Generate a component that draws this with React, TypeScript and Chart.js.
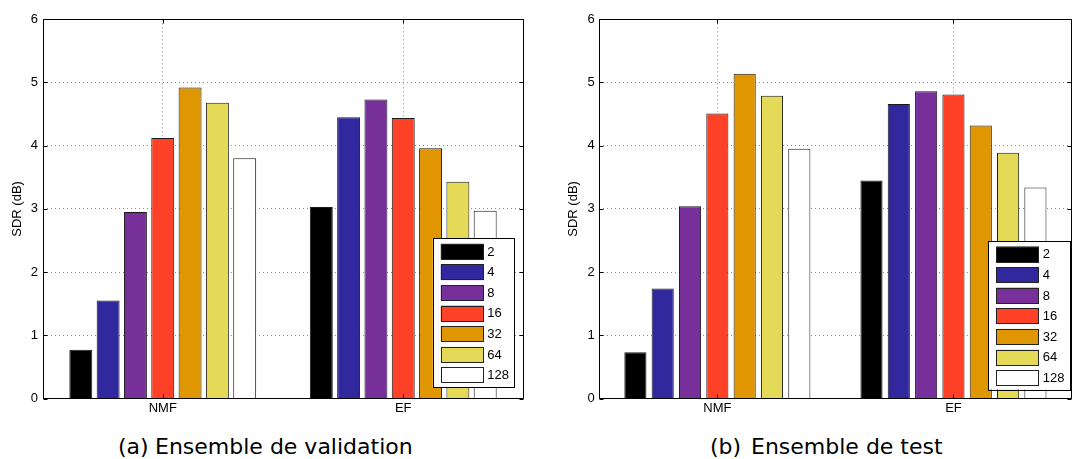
import React, { useEffect, useRef } from "react";
import { Chart, registerables } from "chart.js";

Chart.register(...registerables);

// ---------- data ----------
const categories = ["NMF", "EF"];
const seriesLabels = ["2", "4", "8", "16", "32", "64", "128"];
const seriesColors = ["#000000", "#32289e", "#772f9a", "#ff4128", "#e09600", "#e5da58", "#ffffff"];
const yTicks = [0, 1, 2, 3, 4, 5, 6];
const yAxisTitle = "SDR (dB)";

const validationNMF = [0.77, 1.55, 2.95, 4.12, 4.92, 4.68, 3.8];
const validationEF = [3.03, 4.45, 4.73, 4.44, 3.96, 3.43, 2.97];
const testNMF = [0.73, 1.74, 3.04, 4.51, 5.14, 4.79, 3.95];
const testEF = [3.45, 4.66, 4.86, 4.81, 4.32, 3.89, 3.34];

const captionA = ["(a)", "Ensemble de validation"];
const captionB = ["(b)", "Ensemble de test"];

// ---------- style ----------
const FONT = "'Liberation Sans', Arial, Helvetica, sans-serif";
const GRID = "#8c8c8c";

type PanelCfg = {
  left: number;
  width: number;
  height: number;
  yAxisWidth: number;
  padRight: number;
  padTop: number;
  xAxisHeight: number;
  titleX: number;
  legend: { x: number; y: number; w: number; h: number };
  catPct: number;
  barPct: number;
};

function makeDecorPlugin(cfg: PanelCfg) {
  return {
    id: "panelDecor",
    afterDatasetsDraw(chart: any) {
      const { ctx, chartArea } = chart;
      const xs = chart.scales.x;
      const ys = chart.scales.y;
      const L = Math.round(chartArea.left) + 0.5;
      const R = Math.round(chartArea.right) - 0.5;
      const T = Math.round(chartArea.top) + 0.5;
      const B = Math.round(chartArea.bottom) - 0.5;
      ctx.save();
      ctx.strokeStyle = "#000";
      ctx.lineWidth = 1;
      ctx.setLineDash([]);
      ctx.beginPath();
      ctx.rect(L, T, R - L, B - T);
      // inward ticks
      yTicks.forEach((v) => {
        const py = Math.round(ys.getPixelForValue(v)) + 0.5;
        ctx.moveTo(L, py);
        ctx.lineTo(L + 4, py);
        ctx.moveTo(R, py);
        ctx.lineTo(R - 4, py);
      });
      categories.forEach((_, i) => {
        const px = Math.round(xs.getPixelForValue(i)) + 0.5;
        ctx.moveTo(px, B);
        ctx.lineTo(px, B - 4);
        ctx.moveTo(px, T);
        ctx.lineTo(px, T + 4);
      });
      ctx.stroke();

      // legend
      const lg = cfg.legend;
      ctx.fillStyle = "#fff";
      ctx.fillRect(lg.x, lg.y, lg.w, lg.h);
      ctx.strokeRect(Math.round(lg.x) + 0.5, Math.round(lg.y) + 0.5, Math.round(lg.w), Math.round(lg.h));
      ctx.font = `13px ${FONT}`;
      ctx.textBaseline = "middle";
      ctx.textAlign = "left";
      chart.data.datasets.forEach((ds: any, i: number) => {
        const sx = lg.x + 8;
        const sy = lg.y + 5.5 + i * 20.6;
        ctx.fillStyle = ds.backgroundColor;
        ctx.fillRect(sx, sy, 42.7, 15.7);
        ctx.strokeStyle = "#222";
        ctx.strokeRect(Math.round(sx) + 0.5, Math.round(sy) + 0.5, 42, 15);
        ctx.fillStyle = "#000";
        ctx.fillText(ds.label, sx + 46.5, sy + 8.3);
      });

      // y-axis title
      ctx.translate(cfg.titleX, (chartArea.top + chartArea.bottom) / 2);
      ctx.rotate(-Math.PI / 2);
      ctx.textAlign = "center";
      ctx.fillStyle = "#000";
      ctx.fillText(yAxisTitle, 0, 0);
      ctx.restore();
    },
  };
}

function Panel({ nmf, ef, cfg }: { nmf: number[]; ef: number[]; cfg: PanelCfg }) {
  const ref = useRef<HTMLCanvasElement | null>(null);
  useEffect(() => {
    if (!ref.current) return;
    const datasets = seriesLabels.map((lab, i) => ({
      label: lab,
      data: [nmf[i], ef[i]],
      backgroundColor: seriesColors[i],
      borderColor: "#1a1a1a",
      borderWidth: 1,
      barPercentage: cfg.barPct,
      categoryPercentage: cfg.catPct,
    }));
    const chart = new Chart(ref.current, {
      type: "bar",
      data: { labels: categories, datasets },
      options: {
        animation: false,
        responsive: false,
        layout: { padding: { left: 0, right: cfg.padRight, top: cfg.padTop, bottom: 0 } },
        plugins: { legend: { display: false }, tooltip: { enabled: false }, title: { display: false } },
        scales: {
          x: {
            type: "category",
            offset: true,
            grid: { display: true, offset: false, drawTicks: false, color: GRID, lineWidth: 1 },
            border: { display: false, dash: [1, 3] },
            ticks: { color: "#000", font: { family: FONT, size: 13 }, padding: 2, maxRotation: 0 },
            afterFit: (s: any) => {
              s.height = cfg.xAxisHeight;
            },
          },
          y: {
            min: 0,
            max: 6,
            afterBuildTicks: (s: any) => {
              s.ticks = yTicks.map((v) => ({ value: v }));
            },
            grid: { display: true, drawTicks: false, color: GRID, lineWidth: 1 },
            border: { display: false, dash: [1, 3] },
            ticks: { color: "#000", font: { family: FONT, size: 13 }, padding: 4.5 },
            afterFit: (s: any) => {
              s.width = cfg.yAxisWidth;
            },
          },
        },
      } as any,
      plugins: [makeDecorPlugin(cfg)],
    });
    return () => chart.destroy();
  }, []);
  return (
    <canvas
      ref={ref}
      width={cfg.width}
      height={cfg.height}
      style={{ position: "absolute", left: cfg.left, top: 0, width: cfg.width, height: cfg.height }}
    />
  );
}

const leftCfg: PanelCfg = {
  left: 0,
  width: 540,
  height: 420,
  yAxisWidth: 42.5,
  padRight: 16.5,
  padTop: 19.3,
  xAxisHeight: 21.5,
  titleX: 17.5,
  legend: { x: 432.8, y: 238.3, w: 81.2, h: 149.4 },
  catPct: 0.795,
  barPct: 0.84,
};

const rightCfg: PanelCfg = {
  left: 540,
  width: 532,
  height: 420,
  yAxisWidth: 59.3,
  padRight: 0.5,
  padTop: 19.3,
  xAxisHeight: 21.5,
  titleX: 33.5,
  legend: { x: 448.2, y: 241, w: 81.8, h: 148.5 },
  catPct: 0.81,
  barPct: 0.81,
};

const capStyle: React.CSSProperties = {
  position: "absolute",
  top: 434,
  fontFamily: "'DejaVu Sans', sans-serif",
  fontSize: 22,
  lineHeight: "26px",
  whiteSpace: "nowrap",
  color: "#000",
};

export default function App() {
  return (
    <div style={{ position: "absolute", left: 0, top: 0, width: 1072, height: 459, background: "#fff", overflow: "hidden" }}>
      <Panel nmf={validationNMF} ef={validationEF} cfg={leftCfg} />
      <Panel nmf={testNMF} ef={testEF} cfg={rightCfg} />
      <span style={{ ...capStyle, left: 118 }}>{captionA[0]}</span>
      <span style={{ ...capStyle, left: 155 }}>{captionA[1]}</span>
      <span style={{ ...capStyle, left: 710 }}>{captionB[0]}</span>
      <span style={{ ...capStyle, left: 751 }}>{captionB[1]}</span>
    </div>
  );
}
